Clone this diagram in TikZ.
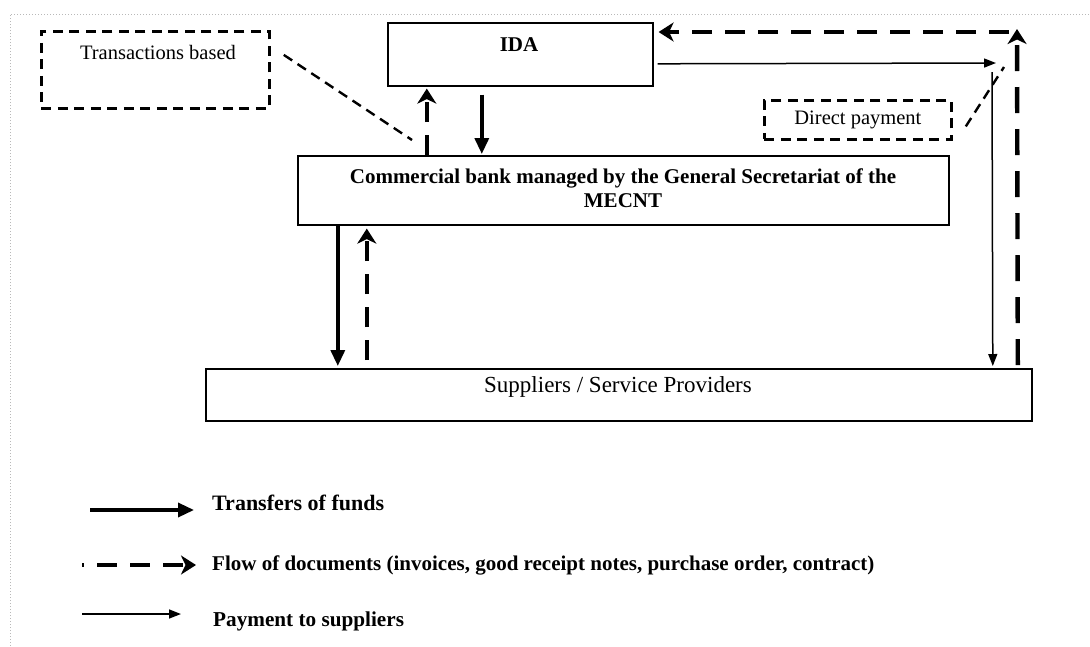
\documentclass[tikz,border=0pt]{standalone}
\usepackage{fontspec}
\setmainfont{Liberation Serif}
\usetikzlibrary{arrows.meta}
\begin{document}
\begin{tikzpicture}[x=1pt,y=-1pt,
  box/.style={draw, line width=1.6pt, rectangle, inner sep=0pt, anchor=north west},
  dbox/.style={draw, line width=2.8pt, dash pattern=on 10pt off 6.5pt, rectangle, inner sep=0pt, anchor=north west},
  funds/.style={line width=3.4pt, -{Triangle[length=16pt,width=14pt]}},
  docs/.style={line width=4.4pt, dash pattern=on 20pt off 13pt, -{Stealth[length=15pt,width=19pt,inset=4.5pt]}},
  docsv/.style={docs, dash pattern=on 26pt off 16pt},
  pay/.style={line width=1.5pt, -{Triangle[length=12pt,width=9pt]}},
  link/.style={line width=2.4pt, dash pattern=on 10pt off 6.5pt},
  rtxt/.style={font=\fontsize{20.5}{24}\selectfont, inner sep=0pt},
  btxt/.style={font=\fontsize{21}{24}\selectfont\bfseries, inner sep=0pt, align=center},
  ltxt/.style={font=\fontsize{21.5}{24}\selectfont\bfseries, inner sep=0pt, anchor=west},
]
\useasboundingbox (0,0) rectangle (1090,646);
\draw[gray!55, line width=1pt, dotted] (10,646) -- (10,14) -- (1090,14);

% boxes
\node[dbox, minimum width=228pt, minimum height=77pt] (trans) at (40,30) {};
\node[rtxt] (transt) at (158,52) {Transactions based};
\node[box, minimum width=265pt, minimum height=63pt] (ida) at (387,22) {};
\node[btxt] (idat) at (519,45) {IDA};
\node[dbox, minimum width=187pt, minimum height=39pt, font=\fontsize{20.5}{24}\selectfont] (direct) at (763,99) {Direct payment};
\node[box, minimum width=651pt, minimum height=69pt] (bank) at (297,155) {};
\node[btxt] (bankt) at (623,188) {Commercial bank managed by the General Secretariat of the\\MECNT};
\node[box, minimum width=826pt, minimum height=52pt] (sup) at (205,368) {};
\node[rtxt, font=\fontsize{23}{26}\selectfont] (supt) at (618,387) {Suppliers / Service Providers};

% corner points
\coordinate (pc) at (992,63);
\coordinate (dc) at (1017,32);
\coordinate (tend) at (412,140);
\coordinate (dend) at (1004,67);

% connectors
\draw[funds] ([xshift=-38.5pt,yshift=-8pt]ida.south) -- ([xshift=-141.5pt,yshift=1pt]bank.north);
\draw[docs] ([xshift=-196.5pt]bank.north) -- ([xshift=-93.5pt,yshift=-2pt]ida.south);
\draw[link] ([xshift=13pt,yshift=15pt]trans.east) -- (tend);
\draw[funds] ([xshift=-285.5pt]bank.south) -- ([xshift=-281pt,yshift=2pt]sup.north);
\draw[docs] ([xshift=-252pt,yshift=8pt]sup.north) -- ([xshift=-256.5pt,yshift=-3pt]bank.south);
\draw[pay] ([xshift=4pt,yshift=-9.5pt]ida.east) -- ([xshift=4pt]pc);
\draw[pay] ([yshift=-9pt]pc) -- ([xshift=374pt,yshift=2pt]sup.north);
\draw[link] ([xshift=13pt,yshift=-6.5pt]direct.east) -- (dend);
\draw[docsv] ([xshift=399pt,yshift=3pt]sup.north) -- ([yshift=3pt]dc);
\draw[docs] ([xshift=-8pt]dc) -- ([xshift=5pt,yshift=-10pt]ida.north east);

% legend
\node[ltxt, font=\fontsize{22}{24}\selectfont\bfseries] (l1) at (212,503) {Transfers of funds};
\node[ltxt, font=\fontsize{21}{24}\selectfont\bfseries] (l2) at (212,565) {Flow of documents (invoices, good receipt notes, purchase order, contract)};
\node[ltxt, font=\fontsize{21.2}{24}\selectfont\bfseries] (l3) at (213,621) {Payment to suppliers};
\coordinate (s1) at (90,510);
\coordinate (s2) at (82,565);
\coordinate (s3) at (82,614);
\draw[funds] (s1) -- (s1 -| 194,0);
\draw[docs, dash phase=18pt] (s2) -- ([xshift=-16pt]l2.west);
\draw[pay] (s3) -- (s3 -| 181,0);
\end{tikzpicture}
\end{document}
